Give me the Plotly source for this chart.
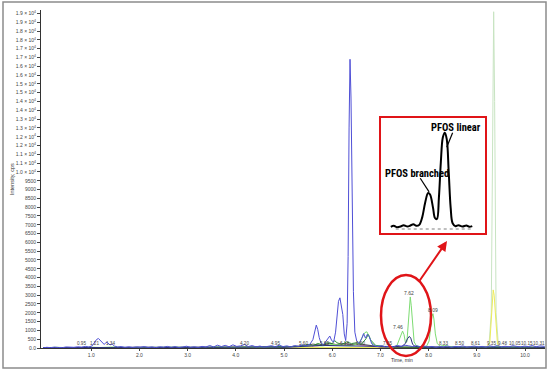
import plotly.graph_objects as go

# ---------------------------------------------------------------------------
# Chromatogram data (time in min, intensity in cps)
# ---------------------------------------------------------------------------

BLUE_T = [0.00, 0.08, 0.16, 0.24, 0.32, 0.40, 0.48, 0.56, 0.64, 0.72,
          0.80, 0.88, 0.95, 1.02, 1.07, 1.11, 1.15, 1.19, 1.23, 1.27,
          1.31, 1.35, 1.39, 1.43, 1.48, 1.55, 1.62, 1.70, 1.78, 1.86,
          1.94, 2.02, 2.10, 2.18, 2.26, 2.34, 2.42, 2.50, 2.58, 2.66,
          2.74, 2.82, 2.90, 2.98, 3.06, 3.14, 3.22, 3.30, 3.38, 3.46,
          3.54, 3.62, 3.70, 3.78, 3.86, 3.94, 4.02, 4.10, 4.18, 4.26,
          4.34, 4.42, 4.50, 4.58, 4.66, 4.74, 4.82, 4.90, 4.98, 5.06,
          5.14, 5.22, 5.30, 5.38, 5.46, 5.54, 5.60, 5.64, 5.67, 5.70,
          5.73, 5.77, 5.82, 5.87, 5.91, 5.95, 5.99, 6.03, 6.07, 6.10,
          6.13, 6.16, 6.19, 6.22, 6.25, 6.28, 6.31, 6.33, 6.35, 6.37,
          6.39, 6.41, 6.44, 6.47, 6.51, 6.56, 6.61, 6.65, 6.69, 6.73,
          6.77, 6.82, 6.88, 6.95, 7.03, 7.11, 7.19, 7.27, 7.35, 7.43,
          7.51, 7.59, 7.67, 7.75, 7.83, 7.91, 7.99, 8.07, 8.15, 8.23,
          8.31, 8.39, 8.47, 8.55, 8.63, 8.71, 8.79, 8.87, 8.95, 9.03,
          9.11, 9.19, 9.27, 9.35, 9.43, 9.51, 9.59, 9.67, 9.75, 9.83,
          9.91, 9.99, 10.07, 10.15, 10.23, 10.31, 10.41]
BLUE_I = [10, 40, 20, 50, 30, 20, 60, 30, 40, 70,
          50, 90, 60, 120, 300, 480, 540, 420, 260, 200,
          320, 280, 170, 240, 110, 60, 80, 40, 70, 30,
          60, 40, 80, 30, 60, 20, 70, 50, 90, 40,
          80, 30, 60, 100, 40, 70, 30, 90, 60, 140,
          60, 160, 80, 150, 70, 180, 90, 120, 200, 80,
          140, 60, 110, 50, 90, 130, 70, 160, 80, 120,
          60, 140, 90, 180, 120, 220, 480, 950, 1300, 1050,
          600, 260, 180, 380, 560, 680, 420, 340, 900, 1900,
          2650, 2850, 2300, 1900, 800, 420, 1400, 5200, 12500, 16400,
          14200, 8500, 3200, 900, 380, 260, 520, 820, 560, 780,
          640, 240, 120, 80, 130, 60, 110, 70, 150, 90,
          160, 120, 80, 130, 60, 110, 50, 90, 40, 80,
          60, 110, 40, 90, 70, 120, 50, 80, 110, 60,
          90, 50, 120, 80, 140, 60, 100, 70, 130, 90,
          60, 110, 80, 140, 70, 120, 90]

GREEN_T = [0.00, 0.30, 0.60, 0.90, 1.20, 1.50, 1.80, 2.10, 2.40, 2.70,
           3.00, 3.30, 3.60, 3.90, 4.20, 4.50, 4.80, 5.10, 5.40, 5.60,
           5.80, 6.00, 6.20, 6.40, 6.55, 6.63, 6.68, 6.72, 6.76, 6.80,
           6.85, 6.95, 7.10, 7.25, 7.34, 7.39, 7.43, 7.46, 7.49, 7.52,
           7.55, 7.58, 7.60, 7.62, 7.64, 7.67, 7.70, 7.74, 7.80, 7.88,
           7.96, 8.01, 8.04, 8.07, 8.09, 8.11, 8.14, 8.18, 8.24, 8.33,
           8.45, 8.60, 8.80, 9.00, 9.20, 9.40, 9.60, 9.80, 10.00, 10.20,
           10.41]
GREEN_I = [20, 40, 10, 50, 30, 60, 20, 40, 30, 50,
           40, 20, 60, 30, 50, 40, 20, 60, 80, 150,
           120, 200, 160, 140, 250, 600, 880, 920, 700, 400,
           160, 90, 70, 60, 120, 450, 800, 960, 760, 300,
           350, 1600, 2500, 2900, 2400, 1100, 350, 150, 90, 60,
           110, 400, 1200, 1800, 1950, 1650, 800, 250, 100, 150,
           80, 60, 40, 70, 50, 90, 40, 60, 50, 70,
           40]

NAVY_T = [0.0, 0.5, 1.0, 1.5, 2.0, 2.5, 3.0, 3.5, 4.0, 4.5,
          5.0, 5.5, 5.8, 6.1, 6.4, 6.7, 7.0, 7.3, 7.45, 7.52,
          7.56, 7.60, 7.63, 7.67, 7.72, 7.85, 8.2, 8.6, 9.0, 9.5,
          10.0, 10.41]
NAVY_I = [20, 40, 30, 20, 50, 30, 40, 60, 30, 50,
          40, 90, 150, 130, 120, 100, 60, 80, 100, 260,
          520, 660, 560, 200, 90, 60, 40, 50, 30, 40,
          50, 30]

DKGREEN_T = [0.0, 1.0, 2.0, 3.0, 4.0, 4.8, 5.3, 5.5, 5.6, 5.7,
             5.8, 5.9, 6.0, 6.05, 6.1, 6.2, 6.3, 6.4, 6.5, 6.6,
             6.7, 6.75, 6.8, 6.9, 7.1, 7.5, 8.0, 9.0, 10.0, 10.41]
DKGREEN_I = [10, 30, 20, 30, 40, 60, 90, 200, 120, 260,
             180, 300, 250, 420, 300, 200, 350, 250, 300, 200,
             520, 780, 450, 150, 80, 50, 40, 30, 40, 20]

BLACK_T = [0.0, 2.0, 4.0, 5.0, 5.4, 5.6, 5.8, 5.95, 6.1, 6.25,
           6.4, 6.55, 6.7, 6.85, 7.0, 7.6, 8.5, 9.5, 10.41]
BLACK_I = [10, 20, 30, 60, 120, 220, 150, 280, 180, 260,
           200, 240, 180, 120, 60, 40, 30, 20, 30]

PINK_T = [0.0, 3.0, 5.0, 5.7, 5.85, 6.0, 6.15, 6.3, 6.45, 6.6, 6.8, 7.2, 8.5, 10.41]
PINK_I = [0, 20, 40, 120, 200, 160, 240, 180, 220, 160, 90, 40, 20, 30]

YELLOW_T = [0.0, 5.0, 8.5, 9.20, 9.27, 9.31, 9.34, 9.36, 9.39, 9.43, 9.50, 10.0, 10.41]
YELLOW_I = [0, 20, 30, 40, 300, 1800, 3300, 3000, 1500, 200, 40, 30, 20]

PALE_T = [0.0, 5.0, 9.0, 9.25, 9.30, 9.33, 9.35, 9.37, 9.40, 9.45, 10.0, 10.41]
PALE_I = [0, 30, 40, 60, 2000, 14000, 19100, 14000, 2000, 80, 40, 30]

# zoomed PFOS trace shown in the inset
INSET_T = [7.07, 7.10, 7.13, 7.17, 7.20, 7.24, 7.27, 7.30, 7.33, 7.36,
           7.39, 7.42, 7.45, 7.47, 7.50, 7.52, 7.54, 7.56, 7.58, 7.60,
           7.62, 7.64, 7.66, 7.68, 7.70, 7.73, 7.76, 7.80, 7.84, 7.87,
           7.90]
INSET_I = [10, 40, 0, 20, 60, 20, 50, 90, 40, 70,
           300, 750, 1050, 1000, 600, 280, 250, 900, 2000, 2750,
           2900, 2700, 1700, 600, 120, 30, 60, 20, 50, 10,
           30]

# retention-time labels written along the baseline: (text, time)
RT_LABELS = [("0.95", 0.79), ("1.21", 1.06), ("1.34", 1.39), ("4.20", 4.19),
             ("4.95", 4.83), ("5.60", 5.40), ("5.89", 5.85), ("6.18", 6.25),
             ("6.60", 6.58), ("7.05", 7.14), ("8.33", 8.30), ("8.50", 8.65),
             ("8.61", 8.98), ("9.35", 9.30), ("9.48", 9.53), ("10.05", 9.79),
             ("10.15", 10.04), ("10.31", 10.29)]
RT_LABEL_Y = 230
PEAK_LABELS = [("7.62", 7.59, 3125), ("7.46", 7.37, 1190), ("8.09", 8.09, 2160)]

X_TICK_VALS = [1, 2, 3, 4, 5, 6, 7, 8, 9, 10]
X_TICK_TEXT = ["1.0", "2.0", "3.0", "4.0", "5.0", "6.0", "7.0", "8.0", "9.0", "10.0"]

Y_TICK_VALS = list(range(0, 19001, 500))
Y_TICK_TEXT = ["0.0", "500", "1000", "1500", "2000", "2500", "3000", "3500",
               "4000", "4500", "5000", "5500", "6000", "6500", "7000", "7500",
               "8000", "8500", "9000", "9500"] + [
    f"{m} × 10<sup>4</sup>" for m in
    ["1.0", "1.1", "1.1", "1.2", "1.2", "1.3", "1.3", "1.4", "1.4", "1.5",
     "1.5", "1.6", "1.6", "1.7", "1.7", "1.8", "1.8", "1.9", "1.9"]]

# ---------------------------------------------------------------------------
# Layout geometry (pixels of the 550x373 picture)
# ---------------------------------------------------------------------------
W, H = 550, 373
PL, PR, PT, PB = 41, 545, 10, 348


def px(x):
    return (x - PL) / (PR - PL)


def py(y):
    return (PB - y) / (PB - PT)


FONT = 'Liberation Sans, Arial, sans-serif'
LABEL_FONT = dict(family=FONT, size=5, color='#444')
RT_FONT = dict(family=FONT, size=4.6, color='#444')
INSET_FONT = dict(family='Liberation Sans Narrow, Roboto Condensed, DejaVu Sans Condensed, sans-serif',
                  size=10.5, color='black')
RED = '#e01418'

fig = go.Figure()

traces = [
    (PALE_T, PALE_I, '#c8e4c2', 1.0),
    (YELLOW_T, YELLOW_I, '#ecec5a', 1.0),
    (PINK_T, PINK_I, '#d060a0', 0.8),
    (BLACK_T, BLACK_I, '#222222', 0.8),
    (DKGREEN_T, DKGREEN_I, '#1f8a2a', 0.9),
    (GREEN_T, GREEN_I, '#7ddc72', 1.0),
    (NAVY_T, NAVY_I, '#2a2f7a', 1.0),
    (BLUE_T, BLUE_I, '#4f4fd6', 1.0),
]
for t, i, color, width in traces:
    fig.add_trace(go.Scatter(x=t, y=i, mode='lines', line=dict(color=color, width=width),
                             showlegend=False, hoverinfo='skip'))

fig.add_trace(go.Scatter(x=INSET_T, y=INSET_I, mode='lines', xaxis='x2', yaxis='y2',
                         line=dict(color='black', width=2, shape='spline'),
                         showlegend=False, hoverinfo='skip'))

annotations = []
for text, t in RT_LABELS:
    annotations.append(dict(x=t, y=RT_LABEL_Y, xref='x', yref='y', text=text,
                            showarrow=False, font=RT_FONT))
for text, t, i in PEAK_LABELS:
    annotations.append(dict(x=t, y=i, xref='x', yref='y', text=text,
                            showarrow=False, font=LABEL_FONT))

annotations += [
    dict(x=px(402), y=py(360), xref='paper', yref='paper', text='Time, min',
         xanchor='center', yanchor='middle', showarrow=False,
         font=dict(family=FONT, size=5, color='#333')),
    dict(x=px(12), y=py(179), xref='paper', yref='paper', text='Intensity, cps',
         xanchor='center', yanchor='middle', textangle=-90, showarrow=False,
         font=dict(family=FONT, size=5.5, color='#333')),
    # arrow from the circled peaks to the inset
    dict(x=px(447), y=py(241), xref='paper', yref='paper', text='', showarrow=True,
         ax=-29, ay=42, arrowhead=2, arrowsize=1, arrowwidth=2, arrowcolor=RED),
    dict(x=7.73, y=3050, xref='x2', yref='y2', text='<b>PFOS linear</b>', showarrow=False,
         font=INSET_FONT),
    dict(x=7.34, y=1660, xref='x2', yref='y2', text='<b>PFOS branched</b>', showarrow=False,
         font=INSET_FONT),
]

shapes = [
    # outer frame
    dict(type='rect', xref='paper', yref='paper', x0=px(3), x1=px(546), y0=py(368), y1=py(2),
         line=dict(color='#8c8c8c', width=1.5)),
    # inset frame
    dict(type='rect', xref='paper', yref='paper', x0=px(380), x1=px(486), y0=py(234), y1=py(117),
         line=dict(color=RED, width=2), fillcolor='rgba(0,0,0,0)'),
    # ellipse round the PFOS peaks
    dict(type='circle', xref='paper', yref='paper', x0=px(381), x1=px(431), y0=py(356), y1=py(275),
         line=dict(color=RED, width=2.5)),
    # inset baseline and leader lines
    dict(type='line', xref='x2', yref='y2', x0=7.12, x1=7.89, y0=-60, y1=-60,
         line=dict(color='#aaaaaa', width=1.5, dash='dot')),
    dict(type='line', xref='x2', yref='y2', x0=7.70, x1=7.64, y0=2900, y1=2450,
         line=dict(color='black', width=1.2)),
    dict(type='line', xref='x2', yref='y2', x0=7.37, x1=7.46, y0=1500, y1=1080,
         line=dict(color='black', width=1.2)),
]

fig.update_layout(
    width=W, height=H,
    margin=dict(l=PL, r=W - PR, t=PT, b=H - PB),
    plot_bgcolor='white', paper_bgcolor='white',
    showlegend=False,
    xaxis=dict(range=[(PL - 43) / 48.2, (PR - 43) / 48.2], tickvals=X_TICK_VALS,
               ticktext=X_TICK_TEXT, showgrid=False, zeroline=False, showline=True,
               linecolor='#333', linewidth=1, ticks='outside', ticklen=2, tickcolor='#444',
               tickfont=LABEL_FONT, automargin=False),
    yaxis=dict(range=[0, 19200], tickvals=Y_TICK_VALS, ticktext=Y_TICK_TEXT,
               showgrid=False, zeroline=False, showline=True, linecolor='#333', linewidth=1,
               ticks='outside', ticklen=3, tickcolor='#444', tickfont=LABEL_FONT,
               automargin=False),
    xaxis2=dict(domain=[px(381), px(485)], range=[6.97, 8.03], anchor='y2', visible=False),
    yaxis2=dict(domain=[py(233), py(118)], range=[-180, 3350], anchor='x2', visible=False),
    annotations=annotations,
    shapes=shapes,
)

# the page's default body margin would push the figure off its 550x373 frame
fig.write_html("out.html", config={'displayModeBar': False},
               post_script="document.body.style.margin = '0';")
